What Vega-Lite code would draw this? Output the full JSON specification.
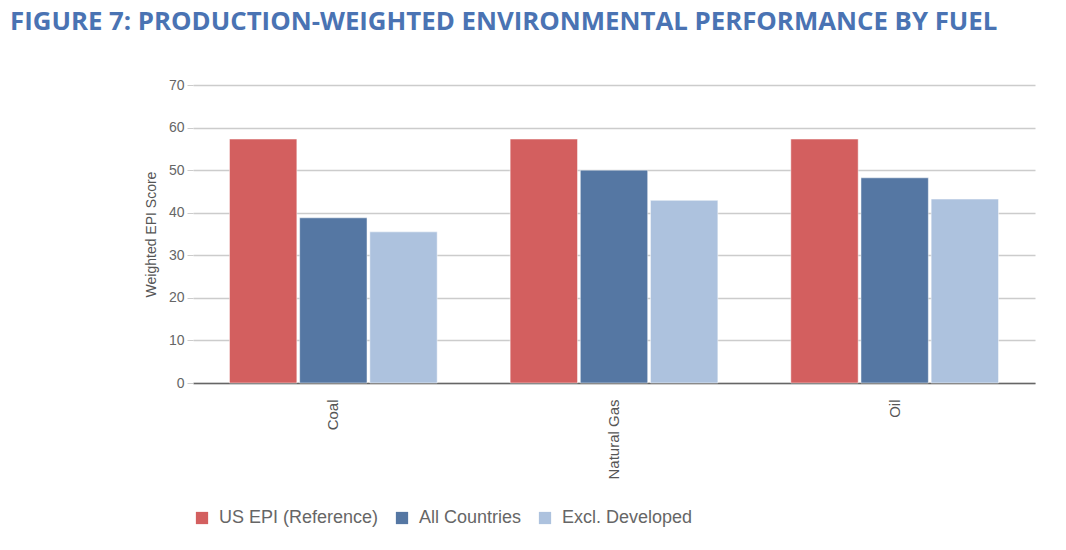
{
  "$schema": "https://vega.github.io/schema/vega-lite/v6.json",
  "autosize": {"type": "none"},
  "width": 842,
  "height": 298,
  "padding": {"left": 193, "top": 85, "right": 31, "bottom": 167},
  "title": {
    "text": "FIGURE 7: PRODUCTION-WEIGHTED ENVIRONMENTAL PERFORMANCE BY FUEL",
    "anchor": "start",
    "frame": "group",
    "dx": -183,
    "offset": 42,
    "font": "Open Sans",
    "fontWeight": "bold",
    "fontSize": 25.8,
    "color": "#4a73b3"
  },
  "data": {
    "values": [
      {"fuel": "Coal", "series": "US EPI (Reference)", "score": 57.3},
      {"fuel": "Coal", "series": "All Countries", "score": 38.8},
      {"fuel": "Coal", "series": "Excl. Developed", "score": 35.5},
      {"fuel": "Natural Gas", "series": "US EPI (Reference)", "score": 57.3},
      {"fuel": "Natural Gas", "series": "All Countries", "score": 50.0},
      {"fuel": "Natural Gas", "series": "Excl. Developed", "score": 42.9},
      {"fuel": "Oil", "series": "US EPI (Reference)", "score": 57.3},
      {"fuel": "Oil", "series": "All Countries", "score": 48.2},
      {"fuel": "Oil", "series": "Excl. Developed", "score": 43.2}
    ]
  },
  "mark": {"type": "bar", "stroke": "#ffffff", "strokeWidth": 0.8, "strokeOpacity": 0.6},
  "encoding": {
    "x": {
      "field": "fuel",
      "type": "nominal",
      "sort": ["Coal", "Natural Gas", "Oil"],
      "scale": {"paddingInner": 0.26, "paddingOuter": 0.13},
      "axis": {
        "title": null,
        "labelAngle": -90,
        "ticks": false,
        "labelPadding": 16,
        "labelFont": "Liberation Sans",
        "labelFontSize": 15,
        "labelColor": "#555555",
        "domainColor": "#666666",
        "domainWidth": 1.5
      }
    },
    "xOffset": {
      "field": "series",
      "type": "nominal",
      "sort": ["US EPI (Reference)", "All Countries", "Excl. Developed"],
      "scale": {"paddingInner": 0.04}
    },
    "y": {
      "field": "score",
      "type": "quantitative",
      "scale": {"domain": [0, 70]},
      "axis": {
        "title": "Weighted EPI Score",
        "values": [0, 10, 20, 30, 40, 50, 60, 70],
        "domain": false,
        "tickSize": 6,
        "tickColor": "#cccccc",
        "gridColor": "#cccccc",
        "gridWidth": 1.5,
        "labelPadding": 3,
        "labelFont": "Liberation Sans",
        "labelFontSize": 14,
        "labelColor": "#666666",
        "titleFont": "Liberation Sans",
        "titleFontSize": 14,
        "titleFontWeight": "normal",
        "titleColor": "#555555",
        "titlePadding": 10
      }
    },
    "color": {
      "field": "series",
      "type": "nominal",
      "sort": ["US EPI (Reference)", "All Countries", "Excl. Developed"],
      "scale": {
        "domain": ["US EPI (Reference)", "All Countries", "Excl. Developed"],
        "range": ["#d35f5f", "#5577a3", "#adc2de"]
      },
      "legend": {
        "title": null,
        "orient": "none",
        "direction": "horizontal",
        "legendX": 0,
        "legendY": 424,
        "symbolType": "square",
        "symbolSize": 150,
        "symbolStrokeWidth": 0,
        "labelFont": "Liberation Sans",
        "labelFontSize": 18,
        "labelColor": "#666666",
        "labelOffset": 8,
        "columnPadding": 14
      }
    }
  },
  "config": {"view": {"stroke": null}}
}
